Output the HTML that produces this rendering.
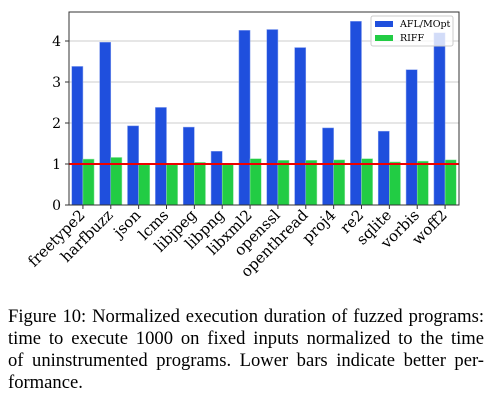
<!DOCTYPE html>
<html><head><meta charset="utf-8"><style>
body{margin:0;width:491px;height:410px;background:#fff;overflow:hidden}
.cap{position:absolute;left:8px;width:476px;font-family:"Liberation Serif",serif;font-size:18.6px;line-height:22px;color:#000}
.j{text-align:justify;text-align-last:justify;white-space:nowrap}
</style></head><body>
<svg id="chart" width="491" height="300" style="position:absolute;left:0;top:0"></svg>
<div class="cap" style="top:306px">
<div class="j">Figure 10: Normalized execution duration of fuzzed programs:</div>
<div class="j">time to execute 1000 on fixed inputs normalized to the time</div>
<div class="j">of uninstrumented programs. Lower bars indicate better per-</div>
<div>formance.</div>
</div>
<script>
const categories=["freetype2","harfbuzz","json","lcms","libjpeg","libpng","libxml2","openssl","openthread","proj4","re2","sqlite","vorbis","woff2"];
const aflValues=[3.38,3.97,1.93,2.38,1.9,1.31,4.26,4.28,3.84,1.88,4.48,1.8,3.3,4.2];
const riffValues=[1.12,1.16,0.98,0.98,1.04,0.98,1.13,1.09,1.09,1.1,1.13,1.05,1.07,1.1];
const yTicks=[0,1,2,3,4];
const NS="http://www.w3.org/2000/svg";
const svg=document.getElementById('chart');
const L=69,R=459,T=12,B=205;
const yMax=(B-T)/41;
const y=v=>B-v*(B-T)/yMax;
const bw=(R-L)/categories.length;
const x=i=>L+bw*(i+0.5);
function mk(t,a,p){const e=document.createElementNS(NS,t);for(const k in a)e.setAttribute(k,a[k]);(p||svg).appendChild(e);return e;}
yTicks.forEach(t=>{
 if(t>0){const g=mk('line',{x1:L,x2:R,y1:y(t),y2:y(t),stroke:'#ccc','stroke-width':1});
 
 }
 const tk=mk('line',{x1:L-4,x2:L,y1:y(t),y2:y(t),stroke:'#333'});
 
 
 const tx=mk('text',{x:L-8,y:y(t)+5,'text-anchor':'end','font-family':'DejaVu Serif,serif','font-size':'14'});
 tx.textContent=t;
 
 
});
const gw=bw*0.8,hw=gw/2;
categories.forEach((c,i)=>{
 const cx=x(i);
 const a=mk('rect',{x:cx-hw,y:y(aflValues[i]),width:hw,height:B-y(aflValues[i]),fill:'#1f4fdd',stroke:'#8aa3f0','stroke-width':0.5});
 
 
 const r=mk('rect',{x:cx,y:y(riffValues[i]),width:hw,height:B-y(riffValues[i]),fill:'#22cc44',stroke:'#9be8a8','stroke-width':0.5});
 
 
 const tk=mk('line',{x1:cx,x2:cx,y1:B,y2:B+4,stroke:'#333'});
 
 
 const tx=mk('text',{x:cx+3,y:B+11,'text-anchor':'end','font-family':'DejaVu Serif,serif','font-size':'15',transform:`rotate(-45 ${cx+3} ${B+11})`});
 tx.textContent=c;
 
 
});
const ref=mk('line',{x1:L,x2:R,y1:y(1),y2:y(1),stroke:'#ee0000','stroke-width':2});


const fr=mk('rect',{x:L,y:T,width:R-L,height:B-T,fill:'none',stroke:'#333','stroke-width':1});


const lg=mk('g',{});


mk('rect',{x:371,y:16,width:82,height:30,fill:'rgba(255,255,255,0.8)',stroke:'#ccc',rx:2},lg);
mk('rect',{x:375,y:21,width:18,height:6,fill:'#1f4fdd'},lg);
mk('rect',{x:375,y:35,width:18,height:6,fill:'#22cc44'},lg);
const t1=mk('text',{x:400,y:27,'font-family':'DejaVu Serif,serif','font-size':'9.5'},lg);t1.textContent='AFL/MOpt';


const t2=mk('text',{x:400,y:41,'font-family':'DejaVu Serif,serif','font-size':'9.5'},lg);t2.textContent='RIFF';


</script>
</body></html>
